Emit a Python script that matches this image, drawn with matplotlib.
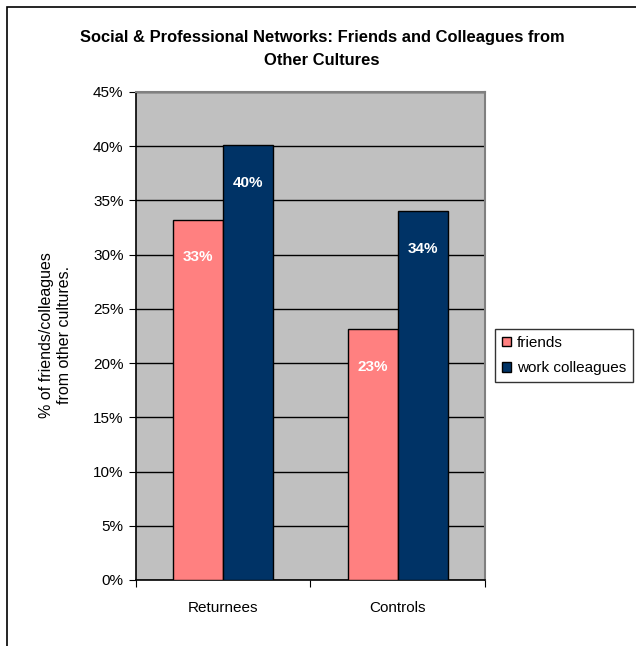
import numpy as np
import matplotlib.pyplot as plt
from matplotlib.patches import Rectangle, Patch
from matplotlib.ticker import FixedLocator

plt.rcParams['font.family'] = ['Liberation Sans', 'DejaVu Sans']

groups = ["Returnees", "Controls"]
friends = [33.2, 23.1]
colleagues = [40.1, 34.0]
friend_labels = ["33%", "23%"]
colleague_labels = ["40%", "34%"]
yticks = [0, 5, 10, 15, 20, 25, 30, 35, 40, 45]

PINK = "#FF8080"
NAVY = "#003366"
GRAY = "#C0C0C0"

fig = plt.figure(figsize=(6.36, 6.46), dpi=100)
ax = fig.add_axes([0.2138, 0.1022, 0.5487, 0.7554])
ax.set_facecolor(GRAY)

# outer chart border (only top/left visible in reference)
fig.patches.append(Rectangle((7 / 636, -0.02), 1.05, 1 - 7 / 646 + 0.02,
                             transform=fig.transFigure, fill=False,
                             edgecolor="black", linewidth=1.2))

x = np.arange(len(groups))
w = 1 / 3.5
b1 = ax.bar(x - w / 2, friends, w, color=PINK, edgecolor="black", linewidth=1, zorder=3)
b2 = ax.bar(x + w / 2, colleagues, w, color=NAVY, edgecolor="black", linewidth=1, zorder=3)

for bars, labels in [(b1, friend_labels), (b2, colleague_labels)]:
    for rect, lab in zip(bars, labels):
        ax.annotate(lab, (rect.get_x() + rect.get_width() / 2, rect.get_height()),
                    xytext=(0, -27), textcoords="offset points",
                    ha="center", va="center", color="white",
                    fontsize=11, fontweight="bold", zorder=4)

ax.set_xlim(-0.5, 1.5)
ax.set_ylim(0, 45)
ax.set_yticks(yticks)
ax.set_yticklabels([f"{t}%" for t in yticks], fontsize=11)
ax.yaxis.grid(True, color="black", linewidth=1, zorder=1)
ax.set_axisbelow(True)

ax.xaxis.set_major_locator(FixedLocator([-0.5, 0.5, 1.5]))
ax.set_xticklabels([])
ax.xaxis.set_minor_locator(FixedLocator(x))
ax.set_xticklabels(groups, minor=True, fontsize=11)
ax.tick_params(axis="x", which="minor", length=0, pad=15)
ax.tick_params(axis="x", which="major", length=5, direction="out", color="black")
ax.tick_params(axis="y", length=5, direction="out", pad=4)

for side in ["left", "bottom"]:
    ax.spines[side].set_color("black")
    ax.spines[side].set_linewidth(1.2)
for side in ["top", "right"]:
    ax.spines[side].set_color("#808080")
    ax.spines[side].set_linewidth(1.5)

fig.text(0.506, 0.924, "Social & Professional Networks: Friends and Colleagues from\nOther Cultures",
         ha="center", va="center", fontsize=11.9, fontweight="bold", linespacing=1.6)

fig.text(0.088, 0.482, "% of friends/colleagues\nfrom other cultures.", rotation=90,
         ha="center", va="center", fontsize=11.5, linespacing=1.25)

handles = [Patch(facecolor=PINK, edgecolor="black", label="friends"),
           Patch(facecolor=NAVY, edgecolor="black", label="work colleagues")]
leg = fig.legend(handles=handles, loc="upper left", bbox_to_anchor=(495 / 636, 1 - 329 / 646),
                 frameon=True, fancybox=False, fontsize=11, handlelength=0.6,
                 handleheight=0.6, handletextpad=0.4, borderpad=0.45,
                 labelspacing=0.75, borderaxespad=0)
leg.get_frame().set_edgecolor("black")
leg.get_frame().set_linewidth(1)

fig.savefig("out.png", dpi=100)
